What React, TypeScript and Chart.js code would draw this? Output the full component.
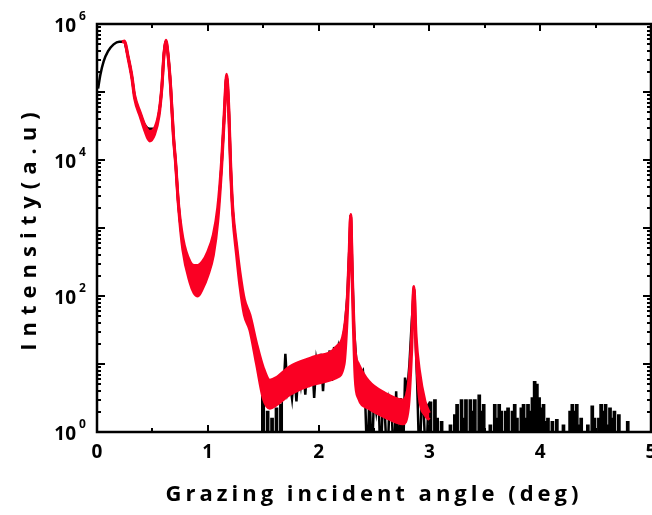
import React, { useEffect, useRef } from 'react';
import { Chart, registerables } from 'chart.js';

Chart.register(...registerables);

const FONT = '"Open Sans", "Liberation Sans", sans-serif';
const RED = 'rgb(250,0,35)';

// Measured (black) – smooth part
const blackSmoothX = [0.01, 0.03, 0.06, 0.10, 0.15, 0.20, 0.24, 0.28, 0.315, 0.34, 0.39, 0.43, 0.475, 0.52, 0.56, 0.585, 0.605, 0.622, 0.64, 0.665, 0.69, 0.71, 0.735, 0.775, 0.84, 0.875, 0.91, 0.95, 1.0, 1.05, 1.09, 1.125, 1.15, 1.17, 1.19, 1.205, 1.225, 1.26, 1.29, 1.33, 1.38, 1.44, 1.48];
const blackSmoothY = [112000, 178000, 282000, 398000, 501000, 550000, 550000, 331000, 166000, 85100, 47900, 33100, 28800, 28800, 49000, 117500, 372000, 562000, 372000, 117500, 22400, 8900, 2240, 562, 178, 126, 141, 200, 316, 562, 1585, 8900, 50100, 174000, 50100, 8900, 1780, 501, 178, 70.8, 39.8, 14.1, 6.3];

// Measured (black) – noisy part
const blackNoisyX = [
  1.48, 1.50, 1.52, 1.54, 1.56, 1.58, 1.60, 1.62, 1.64, 1.66,
  1.68, 1.70, 1.72, 1.74, 1.76, 1.78, 1.80, 1.82, 1.84, 1.86,
  1.88, 1.90, 1.92, 1.94, 1.96, 1.98, 2.00, 2.02, 2.04, 2.06,
  2.08, 2.10, 2.12, 2.14, 2.16, 2.18, 2.20, 2.22, 2.24, 2.26,
  2.275, 2.29, 2.305, 2.32, 2.34, 2.36, 2.38, 2.40, 2.42, 2.44,
  2.46, 2.48, 2.50, 2.52, 2.54, 2.56, 2.58, 2.60, 2.62, 2.64,
  2.66, 2.68, 2.70, 2.72, 2.74, 2.76, 2.78, 2.80, 2.82, 2.84,
  2.86, 2.875, 2.89, 2.91, 2.93, 2.95, 2.97, 2.99, 3.01, 3.03,
  3.05, 3.07, 3.09, 3.11, 3.13, 3.15, 3.17, 3.19, 3.21, 3.23,
  3.25, 3.27, 3.29, 3.31, 3.33, 3.35, 3.37, 3.39, 3.41, 3.43,
  3.45, 3.47, 3.49, 3.51, 3.53, 3.55, 3.57, 3.59, 3.61, 3.63,
  3.65, 3.67, 3.69, 3.71, 3.73, 3.75, 3.77, 3.79, 3.81, 3.83,
  3.85, 3.87, 3.89, 3.91, 3.93, 3.95, 3.97, 3.99, 4.01, 4.03,
  4.05, 4.07, 4.09, 4.11, 4.13, 4.15, 4.17, 4.19, 4.21, 4.23,
  4.25, 4.27, 4.29, 4.31, 4.33, 4.35, 4.37, 4.39, 4.41, 4.43,
  4.45, 4.47, 4.49, 4.51, 4.53, 4.55, 4.57, 4.59, 4.61, 4.63,
  4.65, 4.67, 4.69, 4.71, 4.73, 4.75, 4.77, 4.79, 4.81,
];
const blackNoisyY = [
  6.3, 3.16, 0.3, 2.0, 0.3, 1.58, 0.3, 2.24, 0.3, 2.51,
  3.16, 14.1, 3.98, 5.62, 3.16, 7.94, 2.82, 8.91, 5.01, 10,
  3.55, 11.2, 6.31, 12.6, 3.16, 11.2, 7.08, 14.1, 3.98, 14.1,
  7.94, 15.8, 5.62, 17.8, 10, 17.8, 12.6, 22.4, 39.8, 100,
  398, 1550, 200, 31.6, 11.2, 8.91, 7.08, 7.94, 3.16, 0.3,
  4.47, 0.3, 3.55, 2.0, 3.98, 0.3, 3.16, 1.58, 0.3, 2.82,
  2.0, 0.3, 3.98, 0.3, 3.16, 0.3, 6.31, 3.98, 10, 39.8,
  126, 25.1, 5.01, 0.3, 2.82, 1.78, 0.3, 2.51, 2.75, 0.3,
  2.95, 1.58, 0.3, 1.41, 0.3, 0.3, 0.3, 1.26, 0.3, 1.78,
  2.51, 0.3, 2.95, 1.58, 2.95, 0.3, 2.95, 2.0, 2.95, 0.3,
  3.47, 2.0, 2.51, 0.3, 0.3, 1.26, 0.3, 2.51, 1.58, 2.51,
  2.0, 0.3, 2.0, 2.24, 0.3, 2.0, 2.51, 1.58, 0.3, 2.24,
  2.51, 1.58, 2.51, 2.0, 3.16, 5.5, 5.01, 3.16, 2.24, 2.51,
  1.41, 1.58, 0.3, 1.41, 0.3, 1.51, 0.3, 0.3, 1.26, 0.3,
  0.3, 2.0, 2.51, 2.0, 2.51, 1.26, 1.58, 0.3, 0.3, 1.26,
  0.3, 2.4, 1.58, 0.3, 1.58, 2.51, 2.0, 2.51, 1.26, 2.24,
  1.58, 2.0, 0.3, 1.78, 0.3, 0.3, 0.3, 1.41, 0.3,
];

// Fit (red) – upper / lower envelope of the band
const redX = [0.225, 0.25, 0.28, 0.315, 0.34, 0.39, 0.43, 0.475, 0.52, 0.56, 0.585, 0.605, 0.622, 0.64, 0.665, 0.69, 0.71, 0.735, 0.775, 0.84, 0.875, 0.91, 0.95, 1.0, 1.05, 1.09, 1.125, 1.15, 1.17, 1.19, 1.205, 1.225, 1.26, 1.29, 1.33, 1.38, 1.44, 1.5, 1.56, 1.62, 1.74, 1.95, 2.16, 2.23, 2.26, 2.275, 2.29, 2.305, 2.33, 2.36, 2.45, 2.6, 2.76, 2.81, 2.84, 2.86, 2.88, 2.91, 2.96, 3.0];
const redHi = [550000, 562000, 339000, 174000, 89100, 50100, 33100, 26300, 29500, 51300, 120000, 380000, 575000, 380000, 120000, 23400, 9330, 2340, 708, 316, 282, 282, 316, 447, 794, 2000, 10000, 56200, 182000, 56200, 10000, 2000, 562, 224, 89.1, 52.5, 20, 8.91, 5.75, 6.31, 9.12, 12.6, 17.8, 31.6, 100, 398, 1580, 200, 15.8, 10, 5.62, 3.72, 2.95, 5.01, 25.1, 138, 25.1, 7.94, 2.82, 1.91];
const redLo = [550000, 537000, 316000, 158000, 79400, 43700, 27500, 19100, 24000, 44700, 112000, 355000, 550000, 355000, 112000, 21400, 8510, 2140, 479, 158, 112, 100, 126, 200, 398, 1260, 7940, 44700, 166000, 44700, 7940, 1580, 398, 141, 52.5, 31.6, 10, 3.16, 2.24, 2.51, 3.55, 5.01, 6.31, 10, 56.2, 251, 1480, 126, 6.31, 3.16, 2.24, 1.66, 1.32, 2.24, 15.8, 126, 15.8, 3.16, 1.78, 1.51];

// Axes
const xTickLabels = [0, 1, 2, 3, 4, 5];
const xMajorTicks = [1, 2, 3, 4];
const xMinorTicks = [0.5, 1.5, 2.5, 3.5, 4.5];
const yLabelExponents = [0, 2, 4, 6];
const yMajorTicks = [10, 100, 1000, 10000, 100000];
const xTitle = 'Grazing incident angle (deg)';
const yTitle = 'Intensity(a.u)';

const toPts = (xs: number[], ys: number[]) => xs.map((x, i) => ({ x, y: ys[i] }));
const noisyBetween = (lo: number, hi: number) =>
  toPts(blackNoisyX, blackNoisyY).filter((p) => p.x >= lo - 1e-9 && p.x <= hi + 1e-9);

const decor = {
  id: 'decor',
  afterDraw(chart: any) {
    const { ctx, chartArea: a, scales } = chart;
    const xs = scales.x;
    const ys = scales.y;
    ctx.save();
    ctx.strokeStyle = '#000';
    ctx.fillStyle = '#000';
    ctx.lineCap = 'butt';

    // major ticks
    ctx.lineWidth = 2;
    ctx.beginPath();
    for (const v of xMajorTicks) {
      const px = Math.round(xs.getPixelForValue(v));
      ctx.moveTo(px, a.bottom); ctx.lineTo(px, a.bottom - 7);
      ctx.moveTo(px, a.top); ctx.lineTo(px, a.top + 7);
    }
    for (const v of yMajorTicks) {
      const py = Math.round(ys.getPixelForValue(v));
      ctx.moveTo(a.left, py); ctx.lineTo(a.left + 8, py);
      ctx.moveTo(a.right, py); ctx.lineTo(a.right - 8, py);
    }
    ctx.stroke();

    // minor ticks
    ctx.beginPath();
    for (const v of xMinorTicks) {
      const px = Math.round(xs.getPixelForValue(v));
      ctx.moveTo(px, a.bottom); ctx.lineTo(px, a.bottom - 4);
      ctx.moveTo(px, a.top); ctx.lineTo(px, a.top + 4);
    }
    for (let d = 0; d < 6; d++) {
      for (let m = 2; m <= 9; m++) {
        const py = Math.round(ys.getPixelForValue(m * Math.pow(10, d)));
        ctx.moveTo(a.left, py); ctx.lineTo(a.left + 4, py);
        ctx.moveTo(a.right, py); ctx.lineTo(a.right - 4, py);
      }
    }
    ctx.stroke();

    // frame
    ctx.lineWidth = 2.5;
    ctx.strokeRect(a.left, a.top, a.right - a.left, a.bottom - a.top);

    // x tick labels
    ctx.font = `bold 19px ${FONT}`;
    ctx.textAlign = 'center';
    ctx.textBaseline = 'middle';
    for (const v of xTickLabels) {
      ctx.fillText(String(v), xs.getPixelForValue(v), a.bottom + 21);
    }

    // y tick labels 10^n
    for (const e of yLabelExponents) {
      const py = ys.getPixelForValue(Math.pow(10, e));
      ctx.font = `bold 19px ${FONT}`;
      ctx.textAlign = 'right';
      ctx.fillText('10', a.left - 21, py + 3);
      ctx.font = `bold 12px ${FONT}`;
      ctx.textAlign = 'left';
      ctx.fillText(String(e), a.left - 18, py - 7);
    }

    // axis titles
    ctx.font = `bold 22px ${FONT}`;
    ctx.textAlign = 'center';
    (ctx as any).letterSpacing = '4px';
    ctx.fillText(xTitle, (a.left + a.right) / 2, 495);

    ctx.translate(30, 228);
    ctx.rotate(-Math.PI / 2);
    (ctx as any).letterSpacing = '7px';
    ctx.fillText(yTitle, 0, 0);
    ctx.restore();
  },
};

export default function App() {
  const ref = useRef<HTMLCanvasElement | null>(null);

  useEffect(() => {
    if (!ref.current) return;
    const chart = new Chart(ref.current, {
      type: 'line',
      data: {
        datasets: [
          {
            label: 'fit upper',
            data: toPts(redX, redHi),
            borderColor: RED,
            borderWidth: 3,
            fill: false,
            cubicInterpolationMode: 'monotone',
            order: 0,
          },
          {
            label: 'fit lower',
            data: toPts(redX, redLo),
            borderColor: RED,
            backgroundColor: RED,
            borderWidth: 3,
            fill: '-1',
            cubicInterpolationMode: 'monotone',
            order: 0,
          },
          {
            label: 'measured',
            data: toPts(blackSmoothX, blackSmoothY),
            borderColor: '#000',
            borderWidth: 2.5,
            fill: false,
            cubicInterpolationMode: 'monotone',
            order: 1,
          },
          {
            label: 'measured noise (edge)',
            data: noisyBetween(1.48, 1.68),
            borderColor: '#000',
            backgroundColor: '#000',
            borderWidth: 1.5,
            stepped: 'middle',
            fill: 'start',
            order: 1,
          },
          {
            label: 'measured noise',
            data: noisyBetween(1.68, 3.01),
            borderColor: '#000',
            borderWidth: 2.5,
            fill: false,
            order: 1,
          },
          {
            label: 'measured noise (tail)',
            data: noisyBetween(2.99, 4.81),
            borderColor: '#000',
            backgroundColor: '#000',
            borderWidth: 1.5,
            stepped: 'middle',
            fill: 'start',
            order: 1,
          },
        ] as any,
      },
      options: {
        animation: false,
        responsive: true,
        maintainAspectRatio: false,
        parsing: false as any,
        layout: { padding: { top: 24, right: 1, left: 0, bottom: 0 } },
        elements: { point: { radius: 0 } },
        plugins: { legend: { display: false }, tooltip: { enabled: false } },
        scales: {
          x: {
            type: 'linear',
            min: 0,
            max: 5,
            grid: { display: false, drawTicks: false },
            border: { display: false },
            ticks: { display: false },
            afterFit: (s: any) => { s.height = 83; s.paddingLeft = 0; s.paddingRight = 0; },
          },
          y: {
            type: 'logarithmic',
            min: 1,
            max: 1e6,
            grid: { display: false, drawTicks: false },
            border: { display: false },
            ticks: { display: false },
            afterFit: (s: any) => { s.width = 97; s.paddingTop = 0; s.paddingBottom = 0; },
          },
        },
      } as any,
      plugins: [decor],
    });
    return () => chart.destroy();
  }, []);

  return (
    <div style={{ position: 'fixed', left: 0, top: 0, width: 652, height: 515, background: '#fff' }}>
      <canvas ref={ref} />
    </div>
  );
}
